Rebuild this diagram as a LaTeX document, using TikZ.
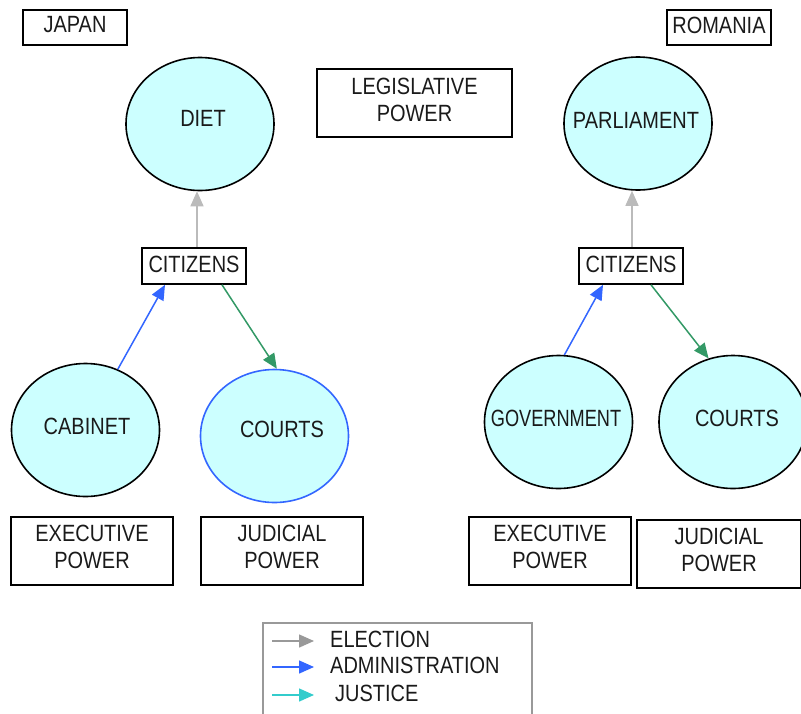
\documentclass[tikz,border=0pt]{standalone}
\usepackage{fontspec}
\setmainfont{Liberation Sans}[FakeStretch=0.85]
\usetikzlibrary{arrows.meta,shapes.geometric}
\definecolor{organfill}{HTML}{CCFFFF}
\definecolor{elecgray}{HTML}{BBBBBB}
\definecolor{legendgray}{HTML}{999999}
\definecolor{adminblue}{HTML}{3366FF}
\definecolor{justgreen}{HTML}{339966}
\definecolor{justcyan}{HTML}{33CCCC}
\definecolor{ink}{HTML}{1A1A1A}
\tikzset{
  txt/.style={font=\fontsize{23.5}{27}\selectfont, text=ink, align=center, inner sep=0pt},
  organ/.style={ellipse, draw=black, line width=1.6pt, fill=organfill,
                minimum width=148pt, minimum height=133pt, inner sep=0pt},
  labelbox/.style={draw=black, line width=1.6pt, inner sep=0pt},
  tip/.style={-{Triangle[length=15pt,width=13pt]}},
  election/.style={tip, draw=elecgray, fill=elecgray, line width=1.5pt},
  admin/.style={tip, draw=adminblue, fill=adminblue, line width=1.5pt},
  justice/.style={tip, draw=justgreen, fill=justgreen, line width=1.5pt},
}
\begin{document}
\begin{tikzpicture}[x=1pt,y=-1pt]
\useasboundingbox (0,0) rectangle (801,713);
\clip (0,0) rectangle (801,713);

% country titles and legislative caption
\node[labelbox, minimum width=104pt, minimum height=35pt] (japan) at (75,27.5) {};
\node[txt] (japant) at (75,25) {JAPAN};
\node[labelbox, minimum width=104pt, minimum height=35pt] (romania) at (719,27.5) {};
\node[txt] (romaniat) at (719,25) {ROMANIA};
\node[labelbox, minimum width=195pt, minimum height=68pt] (legis) at (414.5,103) {};
\node[txt] (legist) at (414.5,100) {LEGISLATIVE\\POWER};

% Japan
\node[organ] (diet) at (200,124) {};
\node[txt] at (203,118) {DIET};
\node[labelbox, minimum width=104pt, minimum height=36pt] (citL) at (194,266) {};
\node[txt] at (194,264) {CITIZENS};
\node[organ] (cab) at (85.5,430) {};
\node[txt] at (87,426) {CABINET};
\node[organ, draw=adminblue] (courtsL) at (274.5,436) {};
\node[txt] at (282,429) {COURTS};
\node[labelbox, minimum width=162pt, minimum height=68pt] (execL) at (92,551) {};
\node[txt] at (92,547) {EXECUTIVE\\POWER};
\node[labelbox, minimum width=162pt, minimum height=68pt] (judL) at (282,551) {};
\node[txt] at (282,547) {JUDICIAL\\POWER};

% Romania
\node[organ] (parl) at (638,123.5) {};
\node[txt] at (636,120) {PARLIAMENT};
\node[labelbox, minimum width=104pt, minimum height=36pt] (citR) at (631,266) {};
\node[txt] at (631,264) {CITIZENS};
\node[organ] (gov) at (558.5,422) {};
\node[txt, xscale=0.91] at (556,418) {GOVERNMENT};
\node[organ] (courtsR) at (733,422) {};
\node[txt] at (737,418) {COURTS};
\node[labelbox, minimum width=162pt, minimum height=68pt] (execR) at (550,551) {};
\node[txt] at (550,547) {EXECUTIVE\\POWER};
\node[labelbox, minimum width=164pt, minimum height=68pt] (judR) at (719,554) {};
\node[txt] at (719,550) {JUDICIAL\\POWER};

% connectors
\draw[election] ([xshift=3pt]citL.north) -- ([xshift=3pt]citL.north |- diet.south);
\draw[admin] (cab.62) -- ([xshift=-29pt]citL.south);
\draw[justice] ([xshift=28pt]citL.south) -- (courtsL.88);
\draw[election] ([xshift=1pt]citR.north) -- ([xshift=1pt]citR.north |- parl.south);
\draw[admin] (gov.85) -- ([xshift=-28pt]citR.south);
\draw[justice] ([xshift=20pt]citR.south) -- (courtsR.111);

% legend
\draw[legendgray, line width=1.5pt] (263,623) rectangle (532,725);
\coordinate (l1a) at (272,641); \coordinate (l1b) at (314,641);
\coordinate (l2a) at (272,667); \coordinate (l2b) at (314,667);
\coordinate (l3a) at (272,695); \coordinate (l3b) at (314,695);
\draw[tip, draw=legendgray, fill=legendgray, line width=1.5pt] (l1a) -- (l1b);
\draw[admin] (l2a) -- (l2b);
\draw[tip, draw=justcyan, fill=justcyan, line width=1.5pt] (l3a) -- (l3b);
\node[txt, anchor=west] (leg1) at (330,639) {ELECTION};
\node[txt, anchor=west] (leg2) at (330,665) {ADMINISTRATION};
\node[txt, anchor=west] (leg3) at (335,693) {JUSTICE};
\end{tikzpicture}
\end{document}
